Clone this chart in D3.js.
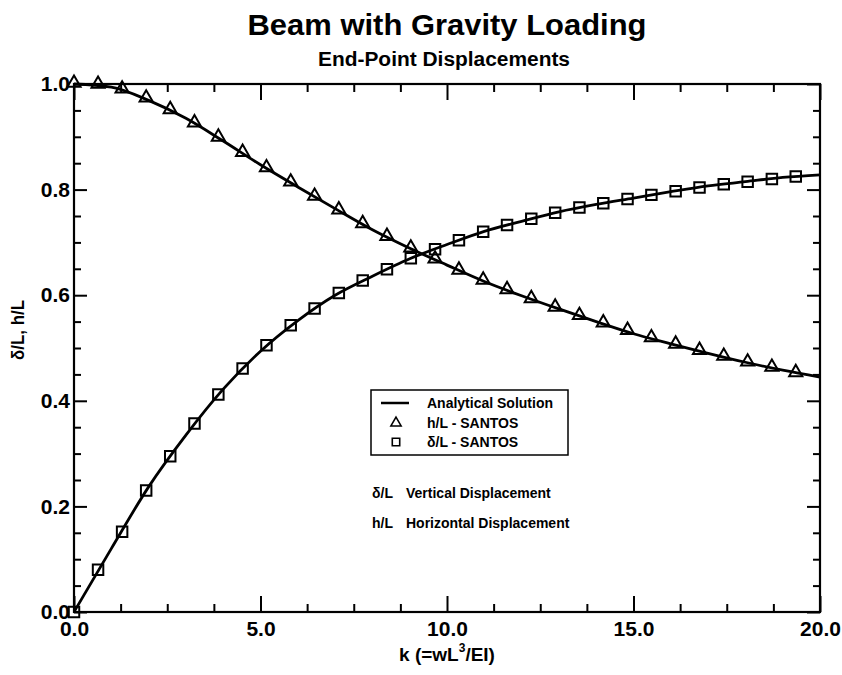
<!DOCTYPE html>
<html>
<head>
<meta charset="utf-8">
<script src="https://cdn.jsdelivr.net/npm/d3@7"></script>
<style>
  body { margin: 0; background: #fff; }
  svg text { font-family: "Liberation Sans", Arial, sans-serif; font-weight: bold; fill: #000; }
</style>
</head>
<body>
<svg id="chart" width="842" height="675"></svg>
<script>
// SANTOS marker positions (k = wL^3/EI)
const kSantos = [0, 0.645, 1.29, 1.935, 2.58, 3.23, 3.87, 4.52, 5.16, 5.81, 6.45, 7.10, 7.74, 8.39, 9.03,
  9.68, 10.32, 10.97, 11.61, 12.26, 12.90, 13.55, 14.19, 14.84, 15.48, 16.13, 16.77, 17.42, 18.06, 18.71, 19.35];
const hSantos = [1.0, 0.998, 0.989, 0.972, 0.950, 0.925, 0.898, 0.869, 0.840, 0.813, 0.786, 0.760, 0.734, 0.710, 0.688,
  0.667, 0.646, 0.627, 0.609, 0.592, 0.576, 0.560, 0.546, 0.532, 0.518, 0.506, 0.494, 0.483, 0.472, 0.462, 0.452];
const dSantos = [0.0, 0.080, 0.152, 0.230, 0.295, 0.357, 0.412, 0.461, 0.505, 0.543, 0.575, 0.604, 0.628, 0.649, 0.670,
  0.687, 0.704, 0.720, 0.733, 0.745, 0.756, 0.766, 0.774, 0.782, 0.790, 0.797, 0.804, 0.810, 0.815, 0.820, 0.825];

// analytical solution
const kExact = [0, 1, 2, 3, 4, 5, 6, 7, 8, 9, 10, 11, 12, 13, 14, 15, 16, 17, 18, 19, 20];
const hExact = [1.0, 0.994, 0.969, 0.935, 0.892, 0.847, 0.805, 0.764, 0.724, 0.689, 0.657, 0.626, 0.599, 0.574,
  0.550, 0.527, 0.508, 0.490, 0.473, 0.458, 0.445];
const dExact = [0.0, 0.120, 0.237, 0.335, 0.422, 0.494, 0.552, 0.600, 0.636, 0.669, 0.696, 0.721, 0.740, 0.758,
  0.772, 0.784, 0.796, 0.807, 0.815, 0.823, 0.828];

const xMajor = [0, 5, 10, 15, 20];
const xMinor = [1.25, 2.5, 3.75, 6.25, 7.5, 8.75, 11.25, 12.5, 13.75, 16.25, 17.5, 18.75];
const yMajor = [0, 0.2, 0.4, 0.6, 0.8, 1.0];
const yMinor = [0.05, 0.1, 0.15, 0.25, 0.3, 0.35, 0.45, 0.5, 0.55, 0.65, 0.7, 0.75, 0.85, 0.9, 0.95];

const legendItems = ["Analytical Solution", "h/L - SANTOS", "\u03b4/L - SANTOS"];
const notes = [["\u03b4/L", "Vertical Displacement"], ["h/L", "Horizontal Displacement"]];

const mLeft = 74, mRight = 820, mTop = 84, mBottom = 612;
const svg = d3.select("#chart");

const x = d3.scaleLinear().domain([0, 20]).range([mLeft, mRight]);
const y = d3.scaleLinear().domain([0, 1]).range([mBottom, mTop]);

// titles
svg.append("text").attr("x", 447).attr("y", 35).attr("text-anchor", "middle")
  .attr("textLength", 399).attr("lengthAdjust", "spacingAndGlyphs")
  .style("font-size", "30px").text("Beam with Gravity Loading");
svg.append("text").attr("x", 444).attr("y", 66).attr("text-anchor", "middle")
  .attr("textLength", 252).attr("lengthAdjust", "spacingAndGlyphs")
  .style("font-size", "20px").text("End-Point Displacements");

// axes with inward ticks
function drawAxis(axis, transform, labels) {
  const g = svg.append("g").attr("transform", transform).call(axis);
  g.select(".domain").remove();
  g.selectAll("line").attr("stroke", "#000").attr("stroke-width", 2);
  if (!labels) g.selectAll("text").remove();
  g.selectAll("text").style("font-size", "21px");
  return g;
}
drawAxis(d3.axisBottom(x).tickValues(xMajor).tickSize(-16).tickPadding(9).tickFormat(d3.format(".1f")),
  `translate(0,${mBottom})`, true);
drawAxis(d3.axisBottom(x).tickValues(xMinor).tickSize(-8), `translate(0,${mBottom})`, false);
drawAxis(d3.axisTop(x).tickValues(xMajor).tickSize(-16), `translate(0,${mTop})`, false);
drawAxis(d3.axisTop(x).tickValues(xMinor).tickSize(-8), `translate(0,${mTop})`, false);
drawAxis(d3.axisLeft(y).tickValues(yMajor).tickSize(-13).tickPadding(4).tickFormat(d3.format(".1f")),
  `translate(${mLeft},0)`, true);
drawAxis(d3.axisLeft(y).tickValues(yMinor).tickSize(-7), `translate(${mLeft},0)`, false);
drawAxis(d3.axisRight(y).tickValues(yMajor).tickSize(-13), `translate(${mRight},0)`, false);
drawAxis(d3.axisRight(y).tickValues(yMinor).tickSize(-7), `translate(${mRight},0)`, false);

svg.append("rect").attr("x", mLeft).attr("y", mTop).attr("width", mRight - mLeft).attr("height", mBottom - mTop)
  .attr("fill", "none").attr("stroke", "#000").attr("stroke-width", 2.2);

// axis titles
const xt = svg.append("text").attr("x", 447).attr("y", 661).attr("text-anchor", "middle").style("font-size", "19px");
xt.append("tspan").text("k (=wL");
xt.append("tspan").attr("dy", -9).style("font-size", "12px").text("3");
xt.append("tspan").attr("dy", 9).text("/EI)");
svg.append("text").attr("transform", "translate(24,330) rotate(-90)").attr("text-anchor", "middle")
  .attr("textLength", 60).attr("lengthAdjust", "spacingAndGlyphs")
  .style("font-size", "19px").text("\u03b4/L, h/L");

// analytical curves
const line = d3.line().curve(d3.curveMonotoneX);
[hExact, dExact].forEach(vals => {
  svg.append("path").attr("d", line(kExact.map((k, i) => [x(k), y(vals[i])])))
    .attr("fill", "none").attr("stroke", "#000").attr("stroke-width", 2.8);
});

// SANTOS markers
const tri = d3.symbol().type(d3.symbolTriangle).size(75);
const sq = d3.symbol().type(d3.symbolSquare).size(110);
svg.append("g").selectAll("path").data(kSantos).join("path")
  .attr("d", tri).attr("transform", (k, i) => `translate(${x(k)},${y(hSantos[i]) - 1})`)
  .attr("fill", "none").attr("stroke", "#000").attr("stroke-width", 2);
svg.append("g").selectAll("path").data(kSantos).join("path")
  .attr("d", sq).attr("transform", (k, i) => `translate(${x(k)},${y(dSantos[i])})`)
  .attr("fill", "none").attr("stroke", "#000").attr("stroke-width", 2);

// legend
const lg = svg.append("g").attr("transform", "translate(371,390)");
lg.append("rect").attr("width", 197).attr("height", 65).attr("fill", "#fff")
  .attr("stroke", "#000").attr("stroke-width", 1.5);
lg.append("line").attr("x1", 10).attr("x2", 38).attr("y1", 13).attr("y2", 13)
  .attr("stroke", "#000").attr("stroke-width", 2.5);
lg.append("path").attr("d", d3.symbol().type(d3.symbolTriangle).size(45)).attr("transform", "translate(25,33)")
  .attr("fill", "none").attr("stroke", "#000").attr("stroke-width", 1.6);
lg.append("path").attr("d", d3.symbol().type(d3.symbolSquare).size(55)).attr("transform", "translate(25,52)")
  .attr("fill", "none").attr("stroke", "#000").attr("stroke-width", 1.6);
lg.selectAll("text").data(legendItems).join("text")
  .attr("x", 56).attr("y", (d, i) => 18 + i * 19.5).style("font-size", "14px").text(d => d);

// notes
notes.forEach((n, i) => {
  const t = svg.append("text").attr("x", 372).attr("y", 498 + i * 30).style("font-size", "14px");
  t.append("tspan").text(n[0]);
  t.append("tspan").attr("x", 406).text(n[1]);
});
</script>
</body>
</html>
